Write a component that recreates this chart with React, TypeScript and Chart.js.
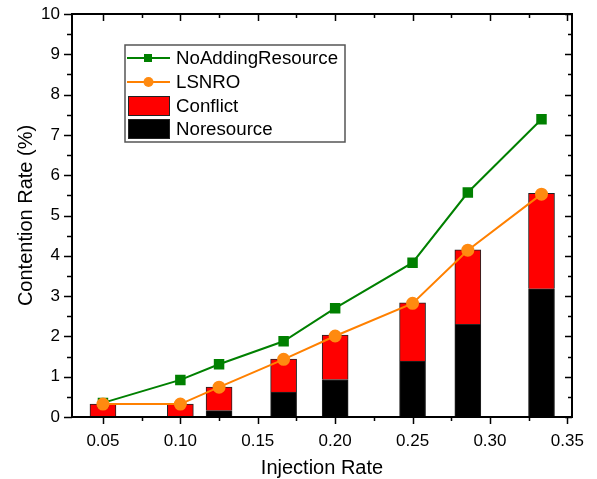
import { useEffect, useRef } from "react";
import { Chart, registerables } from "chart.js";

Chart.register(...registerables);

// ---- data ----
const injectionRates = [0.05, 0.1, 0.125, 0.1667, 0.2, 0.25, 0.2857, 0.3333];
const noAddingResource = [0.35, 0.92, 1.31, 1.88, 2.7, 3.83, 5.57, 7.39];
const lsnro = [0.32, 0.32, 0.74, 1.43, 2.01, 2.82, 4.14, 5.53];
const noresource = [0, 0, 0.16, 0.62, 0.93, 1.39, 2.3, 3.18];
const conflict = [0.32, 0.32, 0.58, 0.82, 1.1, 1.44, 1.85, 2.37];
const xTickValues = [0.05, 0.1, 0.15, 0.2, 0.25, 0.3, 0.35];
const yTickValues = [0, 1, 2, 3, 4, 5, 6, 7, 8, 9, 10];
const xRange = [0.03, 0.353];
const yRange = [0, 10];

const FONT = "'Liberation Sans', Arial, sans-serif";

const framePlugin = {
  id: "frameTicks",
  afterDraw(chart: any) {
    const { ctx, chartArea } = chart;
    const xs = chart.scales.x;
    const ys = chart.scales.y;
    const { left, right, top, bottom } = chartArea;
    ctx.save();
    ctx.strokeStyle = "#000";
    ctx.lineWidth = 1.5;
    const major = 7;
    const minor = 4;
    ctx.beginPath();
    const xMinor: number[] = [];
    for (let i = 0; i < xTickValues.length; i++) {
      xMinor.push(xTickValues[i] - 0.025);
    }
    xMinor.push(xTickValues[xTickValues.length - 1] + 0.025);
    xTickValues.forEach((v) => {
      const px = Math.round(xs.getPixelForValue(v)) + 0.5;
      ctx.moveTo(px, bottom);
      ctx.lineTo(px, bottom + major);
      ctx.moveTo(px, top);
      ctx.lineTo(px, top + major);
    });
    xMinor.forEach((v) => {
      if (v < xs.min || v > xs.max) return;
      const px = Math.round(xs.getPixelForValue(v)) + 0.5;
      ctx.moveTo(px, bottom);
      ctx.lineTo(px, bottom + minor);
      ctx.moveTo(px, top);
      ctx.lineTo(px, top + minor);
    });
    yTickValues.forEach((v) => {
      const py = Math.round(ys.getPixelForValue(v)) + 0.5;
      ctx.moveTo(left, py);
      ctx.lineTo(left - major - 1, py);
      ctx.moveTo(right, py);
      ctx.lineTo(right - major, py);
      const mv = v + 0.5;
      if (mv < ys.max) {
        const pm = Math.round(ys.getPixelForValue(mv)) + 0.5;
        ctx.moveTo(left, pm);
        ctx.lineTo(left - minor - 1, pm);
        ctx.moveTo(right, pm);
        ctx.lineTo(right - minor, pm);
      }
    });
    ctx.stroke();
    ctx.lineWidth = 2;
    ctx.strokeRect(left, top, right - left, bottom - top);
    ctx.restore();
  },
};

const legendPlugin = {
  id: "boxLegend",
  afterDraw(chart: any) {
    const { ctx } = chart;
    const bx = 125;
    const by = 45;
    const bw = 220;
    const bh = 97;
    ctx.save();
    ctx.fillStyle = "#fff";
    ctx.fillRect(bx, by, bw, bh);
    ctx.strokeStyle = "#555";
    ctx.lineWidth = 1.5;
    ctx.strokeRect(bx, by, bw, bh);
    const rowY = [58, 82, 106, 129];
    const ds = chart.data.datasets;
    ds.forEach((d: any, i: number) => {
      const cy = rowY[i];
      if (d.type === "line") {
        ctx.strokeStyle = d.borderColor;
        ctx.lineWidth = 2;
        ctx.beginPath();
        ctx.moveTo(127, cy);
        ctx.lineTo(170, cy);
        ctx.stroke();
        ctx.fillStyle = d.pointBackgroundColor;
        if (d.pointStyle === "rect") {
          ctx.fillRect(144, cy - 4, 8, 8);
        } else {
          ctx.beginPath();
          ctx.arc(148.5, cy, 5, 0, Math.PI * 2);
          ctx.fill();
        }
      } else {
        ctx.fillStyle = d.backgroundColor;
        ctx.fillRect(128, cy - 10, 42, 20);
        ctx.strokeStyle = "#222";
        ctx.lineWidth = 1;
        ctx.strokeRect(128.5, cy - 9.5, 41, 19);
      }
      ctx.fillStyle = "#000";
      ctx.font = `18.7px ${FONT}`;
      ctx.textBaseline = "middle";
      ctx.textAlign = "left";
      ctx.fillText(d.label, 176, cy + 1);
    });
    ctx.restore();
  },
};

export default function App() {
  const ref = useRef<HTMLCanvasElement>(null);
  useEffect(() => {
    document.body.style.margin = "0";
    const canvas = ref.current!;
    const pts = (arr: number[]) => injectionRates.map((x, i) => ({ x, y: arr[i] }));
    const chart = new Chart(canvas, {
      type: "bar",
      data: {
        datasets: [
          {
            type: "line",
            label: "NoAddingResource",
            data: pts(noAddingResource),
            borderColor: "#008000",
            backgroundColor: "#008000",
            pointBackgroundColor: "#008000",
            pointBorderColor: "#008000",
            pointStyle: "rect",
            pointRadius: 6,
            borderWidth: 2,
            tension: 0,
            stack: "l1",
            order: 1,
          } as any,
          {
            type: "line",
            label: "LSNRO",
            data: pts(lsnro),
            borderColor: "#ff8000",
            backgroundColor: "#ff8000",
            pointBackgroundColor: "#ff8a10",
            pointBorderColor: "#ff8a10",
            pointStyle: "circle",
            pointRadius: 5.5,
            borderWidth: 2,
            tension: 0,
            stack: "l2",
            order: 0,
          } as any,
          {
            type: "bar",
            label: "Conflict",
            data: pts(conflict),
            backgroundColor: "#ff0000",
            borderColor: "#222",
            borderWidth: 1,
            barThickness: 26,
            stack: "bars",
            order: 3,
          } as any,
          {
            type: "bar",
            label: "Noresource",
            data: pts(noresource),
            backgroundColor: "#000000",
            borderColor: "#222",
            borderWidth: 1,
            barThickness: 26,
            stack: "bars",
            order: 2,
          } as any,
        ],
      },
      options: {
        responsive: false,
        animation: false,
        layout: { padding: { left: 0, right: 25, top: 14, bottom: 0 } },
        plugins: {
          legend: { display: false },
          tooltip: { enabled: false },
        },
        scales: {
          x: {
            type: "linear",
            min: xRange[0],
            max: xRange[1],
            offset: false,
            grid: { display: false, drawTicks: false },
            border: { display: false },
            afterBuildTicks: (s: any) => {
              s.ticks = xTickValues.map((v) => ({ value: v }));
            },
            afterFit: (s: any) => {
              s.height = 62;
              s.paddingLeft = 0;
              s.paddingRight = 0;
            },
            ticks: {
              padding: 14,
              color: "#000",
              font: { family: FONT, size: 17 },
              maxRotation: 0,
              callback: (v: any) => Number(v).toFixed(2),
            },
            title: {
              display: true,
              text: "Injection Rate",
              color: "#000",
              font: { family: FONT, size: 20 },
              padding: { top: 0, bottom: -1 },
            },
          },
          y: {
            type: "linear",
            stacked: true,
            min: yRange[0],
            max: yRange[1],
            grid: { display: false, drawTicks: false },
            border: { display: false },
            afterBuildTicks: (s: any) => {
              s.ticks = yTickValues.map((v) => ({ value: v }));
            },
            afterFit: (s: any) => {
              s.width = 72;
              s.paddingTop = 0;
              s.paddingBottom = 0;
            },
            ticks: {
              padding: 12,
              color: "#000",
              font: { family: FONT, size: 17 },
              callback: (v: any) => String(v),
            },
            title: {
              display: true,
              text: "Contention Rate (%)",
              color: "#000",
              font: { family: FONT, size: 20 },
              padding: { top: 14, bottom: 0 },
            },
          },
        },
      },
      plugins: [framePlugin, legendPlugin],
    } as any);
    return () => chart.destroy();
  }, []);
  return (
    <canvas
      ref={ref}
      width={597}
      height={479}
      style={{ position: "fixed", left: 0, top: 0, width: 597, height: 479 }}
    />
  );
}
